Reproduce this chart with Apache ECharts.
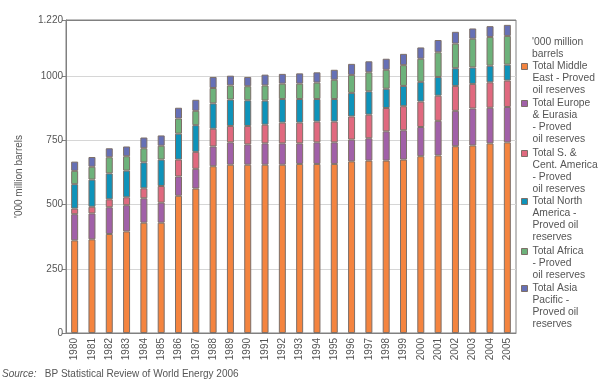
<!DOCTYPE html>
<html>
<head>
<meta charset="utf-8">
<script src="https://cdn.jsdelivr.net/npm/echarts@6/dist/echarts.min.js"></script>
<style>html,body{margin:0;padding:0;background:#fff}#c{width:600px;height:382px}</style>
</head>
<body>
<div id="c"></div>
<script>
const years = ['1980','1981','1982','1983','1984','1985','1986','1987','1988','1989','1990','1991','1992','1993','1994','1995','1996','1997','1998','1999','2000','2001','2002','2003','2004','2005'];
const middleEast = [361,365,386,396,430,430,535,563,650,656,656,656,656,659,659,659,669,672,672,676,689,692,728,731,739,743];
const europeEurasia = [102,101,104,102,95,78,75,77,77,87,79,83,83,80,84,84,85,87,114,114,114,135,138,144,139,138];
const southCentAmerica = [22,26,31,31,39,65,66,66,69,64,72,73,81,81,81,81,90,92,91,94,99,98,97,96,99,103];
const northAmerica = [95,106,101,104,101,103,101,104,99,103,100,94,92,92,88,88,92,91,75,79,77,73,69,64,65,62];
const africa = [52,50,63,56,55,54,59,56,60,55,55,59,60,60,64,75,70,74,74,81,90,96,96,112,112,112];
const asiaPacific = [36,38,35,38,42,40,42,43,43,38,36,42,38,40,40,39,43,43,43,44,44,48,46,40,42,43];

const seriesNames = [
  'Total Middle East - Proved oil reserves',
  'Total Europe & Eurasia - Proved oil reserves',
  'Total S. & Cent. America - Proved oil reserves',
  'Total North America - Proved oil reserves',
  'Total Africa - Proved oil reserves',
  'Total Asia Pacific - Proved oil reserves'
];
const legendLabels = [
  'Total Middle\nEast - Proved\noil reserves',
  'Total Europe\n& Eurasia\n- Proved\noil reserves',
  'Total S. &\nCent. America\n- Proved\noil reserves',
  'Total North\nAmerica -\nProved oil\nreserves',
  'Total Africa\n- Proved\noil reserves',
  'Total Asia\nPacific -\nProved oil\nreserves'
];
const seriesValues = [middleEast, europeEurasia, southCentAmerica, northAmerica, africa, asiaPacific];
const colors = ['#F4843F','#A160A8','#E0697F','#0E93BA','#6DB27B','#6670B6'];
const yTicks = [0,250,500,750,1000,1220];
const yTickLabels = ['0','250','500','750','1000','1.220'];
const unitLabel = "'000 million barrels";
const sourceLabel = 'BP Statistical Review of World Energy 2006';

const FONT = '"Liberation Sans", Arial, sans-serif';
const borderCol = '#7d6f68';
const legendTops = [60, 97, 147, 195, 245, 282];
const LH = 12;

const legends = seriesNames.map((n, i) => {
  const lines = legendLabels[i].split('\n').length;
  const h = lines * LH;
  return {
    show: true,
    left: 521, top: legendTops[i], padding: 0,
    orient: 'vertical',
    itemWidth: 6, itemHeight: h, itemGap: 0,
    icon: 'path://M0,0M6,' + h + 'M0,3L6,3L6,9L0,9Z',
    itemStyle: { borderColor: borderCol, borderWidth: 1 },
    data: [n],
    selectedMode: false,
    formatter: () => legendLabels[i],
    textStyle: { fontFamily: FONT, fontSize: 10.3, lineHeight: LH, color: '#555' },
    itemTextGap: 5
  };
});
legends.forEach(l => { l.textStyle.padding = 0; });

const chart = echarts.init(document.getElementById('c'));
chart.setOption({
  animation: false,
  backgroundColor: '#fff',
  title: [
    { text: "'000 million\nbarrels", left: 532, top: 36, padding: 0,
      textStyle: { fontFamily: FONT, fontSize: 10.3, lineHeight: LH, color: '#555', fontWeight: 'normal' } },
    { text: '{i|Source:}   ' + sourceLabel, left: 2, top: 369, padding: 0,
      textStyle: { fontFamily: FONT, fontSize: 10, color: '#555', fontWeight: 'normal',
        rich: { i: { fontFamily: FONT, fontSize: 10, fontStyle: 'italic', color: '#555' } } } }
  ],
  legend: legends,
  grid: { left: 66, right: 84, top: 20, bottom: 49, show: true, borderColor: '#808080', borderWidth: 1, containLabel: false },
  xAxis: {
    type: 'category', data: years,
    axisLine: { lineStyle: { color: '#808080', width: 1 } },
    axisTick: { show: false },
    axisLabel: { rotate: 90, margin: 5, fontFamily: FONT, fontSize: 10, color: '#555', interval: 0 }
  },
  yAxis: {
    type: 'value', min: 0, max: 1220, interval: 250,
    name: unitLabel, nameLocation: 'middle', nameGap: 42,
    nameTextStyle: { fontFamily: FONT, fontSize: 10, color: '#555' },
    axisLine: { show: true, lineStyle: { color: '#808080', width: 1 } },
    axisTick: { show: true, length: 4, lineStyle: { color: '#808080' } },
    axisLabel: { margin: 3, fontFamily: FONT, fontSize: 10, color: '#555',
      formatter: v => { const k = yTicks.indexOf(v); return k >= 0 ? yTickLabels[k] : String(v); } },
    splitLine: { show: true, lineStyle: { color: ['#d6d6d6','#d6d6d6','#d6d6d6','#d6d6d6','#d6d6d6','#808080'], width: 1 } }
  },
  series: seriesNames.map((n, i) => ({
    name: n, type: 'bar', stack: 'total', barWidth: 7,
    data: seriesValues[i],
    itemStyle: { color: colors[i], borderColor: borderCol, borderWidth: 1 }
  }))
});
</script>
</body>
</html>
